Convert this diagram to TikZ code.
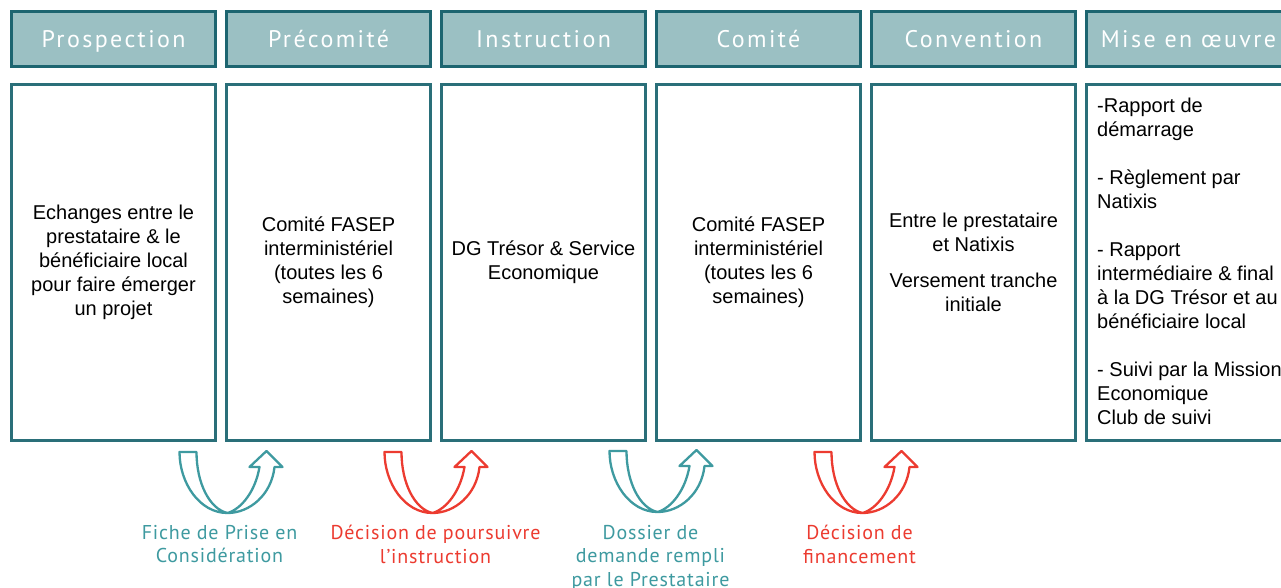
\documentclass[tikz,border=0pt]{standalone}
\usepackage{fontspec}
\setmainfont{Liberation Sans}
\newfontfamily\headfont[LetterSpace=10]{PT Sans}
\newfontfamily\notefont[LetterSpace=4]{PT Sans}
\usetikzlibrary{positioning,calc}

\definecolor{headfill}{HTML}{9BC0C3}
\definecolor{headline}{HTML}{1D6570}
\definecolor{boxline}{HTML}{2A6F79}
\definecolor{tealarrow}{HTML}{3E9AA0}
\definecolor{redarrow}{HTML}{EC3B30}

\tikzset{
  head/.style={draw=headline, fill=headfill, line width=3pt, minimum width=204pt,
    minimum height=55pt, inner sep=0pt, text=white, text height=20pt, text depth=2pt,
    font=\headfont\fontsize{24}{28}\selectfont},
  body/.style={draw=boxline, line width=3pt, minimum width=204pt, minimum height=356pt,
    inner sep=0pt, align=center, font=\fontsize{20}{24}\selectfont},
  note/.style={anchor=north, inner sep=0pt, align=center, text=#1,
    font=\notefont\fontsize{20}{23.5}\selectfont},
  uturn/.style={draw=#1, fill=white, line width=2.3pt, line join=round},
  uturn/.pic={
    \path[pic actions] (-48,-61) -- (-31,-61)
      .. controls (-31,-30) and (-18,-4) .. (0,0)
      .. controls (14,-4) and (28,-22) .. (32,-46)
      -- (22,-46) -- (39,-62) -- (55,-46) -- (47,-46)
      .. controls (44,-18) and (22,0) .. (0,0)
      .. controls (-28,0) and (-48,-30) .. cycle;
  }
}

\begin{document}
\begin{tikzpicture}[x=1pt,y=-1pt]
    \useasboundingbox (0,0) rectangle (1281,588);
    \fill[white] (0,0) rectangle (1281,588);
    \clip (0,0) rectangle (1281,588);

      \node[head, anchor=north west] (pros) at (10,10) {Prospection};
      \node[head, right=8pt of pros] (prec) {Précomité};
      \node[head, right=8pt of prec] (inst) {Instruction};
      \node[head, right=8pt of inst] (comi) {Comité};
      \node[head, right=8pt of comi] (conv) {Convention};
      \node[head, right=8pt of conv] (mise) {Mise en œuvre};

      \node[body, below=15pt of pros] (prosb) {Echanges entre le\\prestataire \& le\\bénéficiaire local\\pour faire émerger\\un projet};
      \node[body, below=15pt of prec] (precb) {Comité FASEP\\interministériel\\(toutes les 6\\semaines)};
      \node[body, below=15pt of inst] (instb) {DG Trésor \& Service\\Economique};
      \node[body, below=15pt of comi] (comib) {Comité FASEP\\interministériel\\(toutes les 6\\semaines)};
      \node[body, below=15pt of conv] (convb) {Entre le prestataire\\et Natixis\\[12pt]Versement tranche\\initiale};
      \node[body, below=15pt of mise] (miseb) {};
      \node[anchor=north west, inner sep=0pt, align=left, font=\fontsize{20}{24}\selectfont]
        (misetxt) at ($(miseb.north west)+(12,15)$)
        {-Rapport de\\démarrage\\[24pt]- Règlement par\\Natixis\\[24pt]- Rapport\\intermédiaire \& final\\à la DG Trésor et au\\bénéficiaire local\\[24pt]- Suivi par la Mission\\Economique\\Club de suivi};

      \coordinate (g1) at ($(prosb.south east)!.5!(precb.south west)$);
      \coordinate (g2) at ($(precb.south east)!.5!(instb.south west)$);
      \coordinate (g3) at ($(instb.south east)!.5!(comib.south west)$);
      \coordinate (g4) at ($(comib.south east)!.5!(convb.south west)$);

      \pic[uturn=tealarrow] at ($(g1)+(6.5,71)$) {uturn};
      \pic[uturn=redarrow] at ($(g2)+(-3.5,71)$) {uturn};
      \pic[uturn=tealarrow] at ($(g3)+(6.5,70)$) {uturn};
      \pic[uturn=redarrow] at ($(g4)+(-3.5,71)$) {uturn};

      \node[note=tealarrow] (fiche) at ($(g1)+(-1.5,83)$) {Fiche de Prise en\\Considération};
      \node[note=redarrow] (pours) at ($(g2)+(-0.5,83)$) {Décision de poursuivre\\l’instruction};
      \node[note=tealarrow] (doss) at ($(g3)+(-0.5,83)$) {Dossier de\\demande rempli\\par le Prestataire};
      \node[note=redarrow] (finan) at ($(g4)+(-6.5,83)$) {Décision de\\financement};
\end{tikzpicture}
\end{document}
